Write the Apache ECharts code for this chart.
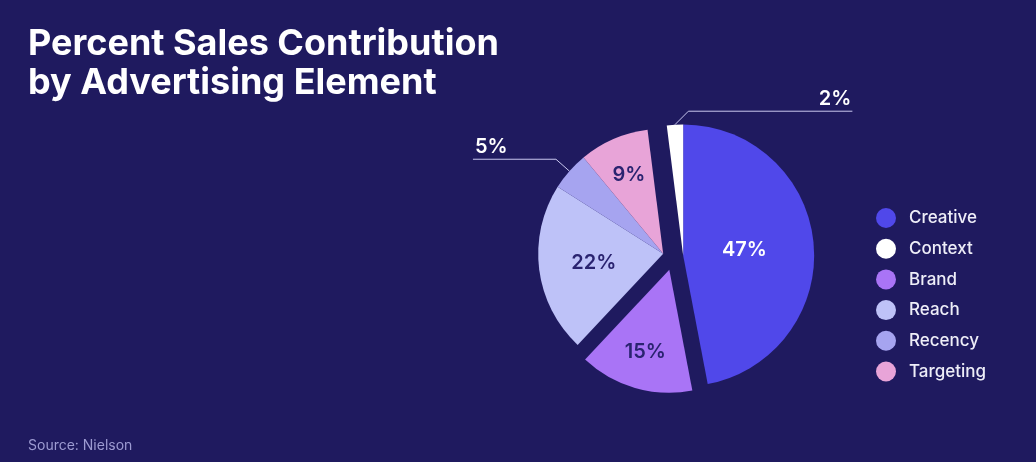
<!DOCTYPE html>
<html><head><meta charset="utf-8">
<script src="https://cdn.jsdelivr.net/npm/echarts@6/dist/echarts.min.js"></script>
<style>html,body{margin:0;padding:0;background:#1f1a5f}#c{width:1036px;height:462px}</style>
</head><body><div id="c"></div>
<script>
// ---- data ----
const categories = ['Creative', 'Brand', 'Reach', 'Recency', 'Targeting', 'Context'];
const shares = [47, 15, 22, 5, 9, 2];
const legendOrder = ['Creative', 'Context', 'Brand', 'Reach', 'Recency', 'Targeting'];
const titleText = 'Percent Sales Contribution\nby Advertising Element';
const sourceText = 'Source: Nielson';

// ---- styles ----
const bg = '#1f1a5f';
const colors = {Creative:'#5048ea', Context:'#ffffff', Brand:'#a974f6', Reach:'#bec2f8', Recency:'#a6a4f0', Targeting:'#e8a4d8'};
const labelColors = {Creative:'#ffffff', Brand:'#2a2370', Reach:'#2a2370', Targeting:'#2a2370', Recency:'#ffffff', Context:'#ffffff'};
const groups = [
  {members:['Creative','Context'], radius:131, offset:10.3},
  {members:['Brand'], radius:123, offset:13.3},
  {members:['Reach','Recency','Targeting'], radius:125, offset:10.3}
];
const baseCenter = [673, 257];
const insideFrac = {Creative:0.47, Brand:0.7, Reach:0.56, Targeting:0.69};
const outsideStyle = {
  Recency:{bend:null, len1:18, len2:83, side:-1},
  Context:{bend:45, len1:19, len2:164, side:1}
};
const lineColor = '#c9c8ef';

// ---- geometry from data ----
const rad = d => d * Math.PI / 180;
const total = shares.reduce((a, b) => a + b, 0);
const arcs = {};
let acc = 0;
categories.forEach((c, i) => {
  const a0 = 90 - acc / total * 360; acc += shares[i];
  const a1 = 90 - acc / total * 360;
  arcs[c] = {a0, a1, mid:(a0 + a1) / 2, w:a0 - a1};
});
groups.forEach(g => {
  let sx = 0, sy = 0;
  g.members.forEach(m => {
    const a = arcs[m]; const k = 2 * Math.sin(rad(a.w) / 2);
    sx += k * Math.cos(rad(a.mid)); sy += k * Math.sin(rad(a.mid));
  });
  const n = Math.hypot(sx, sy);
  g.center = [baseCenter[0] + g.offset * sx / n, baseCenter[1] - g.offset * sy / n];
});

function makeLayout(gi) {
  const g = groups[gi];
  return function (p) {
    const c = categories[p.dataIndex];
    if (!g.members.includes(c)) return {};
    const a = rad(arcs[c].mid);
    if (outsideStyle[c]) {
      const o = outsideStyle[c];
      const p1 = [g.center[0] + g.radius * Math.cos(a), g.center[1] - g.radius * Math.sin(a)];
      const b = o.bend == null ? a : rad(o.bend);
      const p2 = [p1[0] + o.len1 * Math.cos(b), p1[1] - o.len1 * Math.sin(b)];
      const p3 = [p2[0] + o.side * o.len2, p2[1]];
      return {
        x: p3[0] + (o.side < 0 ? 2 : -1), y: p3[1] - 12.5,
        align: o.side < 0 ? 'left' : 'right', verticalAlign: 'middle',
        labelLinePoints: [p1, p2, p3]
      };
    }
    const f = insideFrac[c];
    return {
      x: g.center[0] + f * g.radius * Math.cos(a),
      y: g.center[1] - f * g.radius * Math.sin(a),
      align: 'center', verticalAlign: 'middle'
    };
  };
}

const chart = echarts.init(document.getElementById('c'), null, {renderer:'canvas'});
chart.setOption({
  backgroundColor: bg,
  animation: false,
  title: [
    {text: titleText, left: 28, top: 25, padding: 0,
     textStyle: {color:'#ffffff', fontFamily:'Inter', fontSize:36, fontWeight:700, lineHeight:39}},
    {text: sourceText, left: 28, top: 439, padding: 0,
     textStyle: {color:'#9d9bd2', fontFamily:'Inter', fontSize:14, fontWeight:400}}
  ],
  legend: {
    orient:'vertical', left:876, top:208, padding:0, icon:'circle',
    itemWidth:36, itemHeight:20, itemGap:10.7, selectedMode:false,
    data: legendOrder.map(n => ({name:n, itemStyle:{color:colors[n]}})),
    textStyle: {color:'#eeeef8', fontFamily:'Inter', fontSize:17, fontWeight:500}
  },
  series: groups.map((g, gi) => ({
    type:'pie', left:0, top:0, width:1036, height:462,
    center: g.center, radius: g.radius, startAngle: 90, clockwise: true,
    avoidLabelOverlap: false, silent: true,
    label: {show:true, position:'inside', formatter:'{c}%', fontFamily:'Inter', fontSize:20, fontWeight:600},
    labelLine: {show:false},
    labelLayout: makeLayout(gi),
    emphasis: {disabled:true},
    data: categories.map((c, i) => g.members.includes(c)
      ? {name:c, value:shares[i], itemStyle:{color:colors[c]},
         label:{color:labelColors[c], position: outsideStyle[c] ? 'outside' : 'inside'},
         labelLine:{show: !!outsideStyle[c], length:10, length2:10, lineStyle:{color:lineColor, width:1}}}
      : {name:c, value:shares[i], itemStyle:{color:'rgba(0,0,0,0)'}, label:{show:false}, labelLine:{show:false}})
  }))
});
</script></body></html>
